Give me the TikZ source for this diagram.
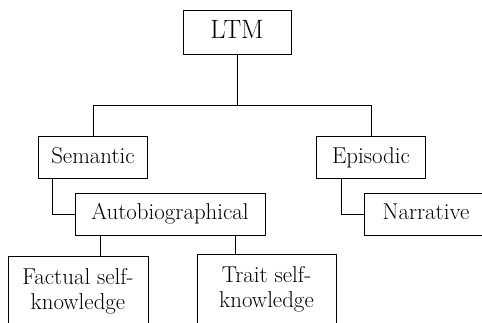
\documentclass[tikz,border=0pt]{standalone}
\usepackage{tikz}

\begin{document}
\begin{tikzpicture}[x=1pt,y=-1pt]
      \tikzset{memory box/.style={draw,
          line width=0.9pt,
          inner sep=0pt,
          minimum width=#1,
          minimum height=42pt,
          font=\fontsize{22.9}{25}\selectfont,
          text height=16pt,
          text depth=5pt},
        two lines/.style={align=center,
          minimum height=80pt,
          text height=41pt,
          text depth=14pt}
      }
      \useasboundingbox (0,0) rectangle (482,322);
      \clip (0,0) rectangle (482,322);

      \node [memory box=108pt, minimum height=44pt, font=\fontsize{26.5}{28}\selectfont, text height=18pt] (LTM) at (237,32) {LTM};
      \node [memory box=109pt] (Semantic) at (93,157.5) {Semantic};
      \node [memory box=109pt] (Episodic) at (371,157.5) {Episodic};
      \node [memory box=190pt] (Autobio) at (170,214) {Autobiographical};
      \node [memory box=124pt] (Narrative) at (426,214) {Narrative};
      \node [memory box=140pt, two lines, anchor=north] (Factual) at (78,255.5) {Factual self-\\knowledge};
      \node [memory box=139pt, two lines, anchor=north] (Trait) at (266.5,254) {Trait self-\\knowledge};

      \coordinate (split) at (LTM.south |- 0,105);
      \draw [line width=0.9pt] (LTM) -- (split) -| (Semantic);
      \draw [line width=0.9pt] (split) -| (Episodic);
      \draw [line width=0.9pt] ([xshift=14pt]Semantic.south west) |- (Autobio);
      \draw [line width=0.9pt] ([xshift=25pt]Episodic.south west) |- (Narrative);
      \draw [line width=0.9pt] ([xshift=26pt]Autobio.south west) coordinate (a1) -- (a1 |- Factual.north);
      \draw [line width=0.9pt] ([xshift=-30pt]Autobio.south east) coordinate (a2) -- (a2 |- Trait.north);
    \end{tikzpicture}
\end{document}
